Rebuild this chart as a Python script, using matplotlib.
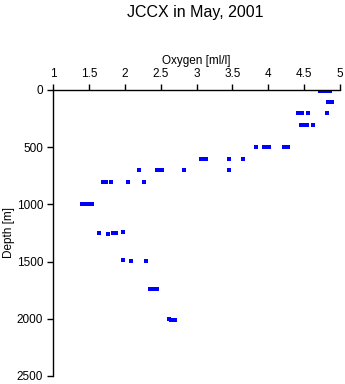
import matplotlib
matplotlib.use("Agg")
import matplotlib.pyplot as plt

depth = [5, 5, 5, 5,
         105, 105, 105,
         200, 200, 200, 200,
         305, 305, 305, 305,
         500, 500, 500, 500, 500, 500,
         605, 605, 605, 605, 605,
         700, 700, 700, 700, 700, 700,
         800, 800, 800, 800, 800,
         995, 995, 995, 995,
         1250, 1255, 1250, 1250, 1245,
         1490, 1495, 1495,
         1740, 1740, 1740, 1740,
         2005, 2010, 2010, 2012]
oxygen = [4.72, 4.76, 4.80, 4.86,
          4.83, 4.86, 4.89,
          4.42, 4.47, 4.55, 4.82,
          4.46, 4.50, 4.54, 4.62,
          3.83, 3.94, 3.98, 4.01, 4.22, 4.28,
          3.06, 3.10, 3.13, 3.45, 3.65,
          2.20, 2.45, 2.48, 2.52, 2.83, 3.45,
          1.70, 1.74, 1.81, 2.05, 2.27,
          1.40, 1.44, 1.50, 1.54,
          1.64, 1.76, 1.84, 1.88, 1.98,
          1.98, 2.09, 2.29,
          2.35, 2.39, 2.43, 2.45,
          2.62, 2.65, 2.68, 2.70]
xticks = [1, 1.5, 2, 2.5, 3, 3.5, 4, 4.5, 5]
xticklabels = ["1", "1.5", "2", "2.5", "3", "3.5", "4", "4.5", "5"]
yticks = [0, 500, 1000, 1500, 2000, 2500]

plt.rcParams['font.family'] = ['Liberation Sans', 'DejaVu Sans']
fig = plt.figure(figsize=(3.45, 3.84), dpi=100)
ax = fig.add_axes([53/345, 1 - 376/384, (340 - 53)/345, (376 - 90)/384])
ax.plot(oxygen, depth, linestyle='none', marker='s', markersize=2.4,
        color='#0000ff', markeredgewidth=0)
ax.set_xlim(1, 5)
ax.set_ylim(2500, 0)
ax.xaxis.tick_top()
ax.xaxis.set_label_position('top')
ax.set_xticks(xticks)
ax.set_xticklabels(xticklabels)
ax.set_yticks(yticks)
ax.spines['right'].set_visible(False)
ax.spines['bottom'].set_visible(False)
for s in ['top', 'left']:
    ax.spines[s].set_linewidth(1)
ax.tick_params(direction='out', length=4, width=1, labelsize=8.5, pad=3)
ax.set_xlabel('Oxygen [ml/l]', fontsize=8.5, labelpad=3)
ax.set_ylabel('Depth [m]', fontsize=8.5)
ax.yaxis.set_label_coords(-0.132, 0.5)
fig.text(0.565, 1 - 12/384, 'JCCX in May, 2001', ha='center', va='center', fontsize=11.5)
fig.savefig('out.png', dpi=100)
